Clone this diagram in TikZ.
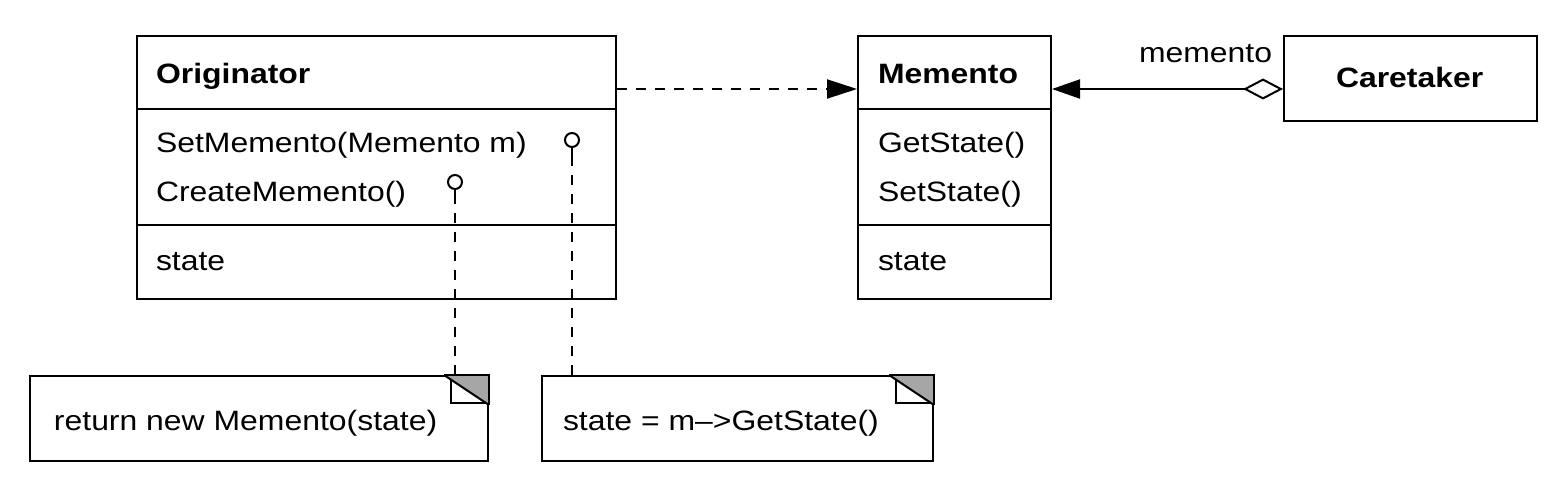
\documentclass[tikz,border=0pt]{standalone}
\usepackage{fontspec}
\setmainfont[FakeStretch=1.14]{Liberation Sans}
\usetikzlibrary{arrows.meta,calc}
\begin{document}
\begin{tikzpicture}[x=0.5pt,y=-0.5pt, line width=1pt,
  cls/.style={draw, rectangle, anchor=north west, inner sep=0pt},
  txt/.style={anchor=base west, inner sep=0pt, font=\fontsize{14}{16}\selectfont},
  btxt/.style={anchor=base west, inner sep=0pt, font=\fontsize{14}{16}\selectfont\bfseries},
  dashline/.style={dash pattern=on 5pt off 4.5pt},
  pincirc/.style={draw, circle, fill=white, minimum size=7pt, inner sep=0pt},
  foldfill/.style={fill=black!35},
  tri/.style={-{Triangle[length=15pt,width=9.5pt]}}]
\useasboundingbox (0,0) rectangle (1568,492);

% classes
\node[cls, minimum width=239.5pt, minimum height=131.5pt] (orig) at (136,35) {};
\node[cls, minimum width=96.5pt, minimum height=131.5pt] (mem) at (857,35) {};
\node[cls, minimum width=126.5pt, minimum height=42.5pt] (care) at (1283,35) {};

\draw (orig.west |- 0,109) -- (orig.east |- 0,109);
\draw (orig.west |- 0,225) -- (orig.east |- 0,225);
\draw (mem.west |- 0,109) -- (mem.east |- 0,109);
\draw (mem.west |- 0,225) -- (mem.east |- 0,225);

\node[btxt] (origname) at (155,84) {Originator};
\node[txt] (om1) at (155,152) {SetMemento(Memento m)};
\node[txt] (om2) at (155,201) {CreateMemento()};
\node[txt] (oa1) at (155,270) {state};

\node[btxt] (memname) at (877,84) {Memento};
\node[txt] (mm1) at (877,152) {GetState()};
\node[txt] (mm2) at (877,201) {SetState()};
\node[txt] (ma1) at (877,270) {state};

\node[btxt] (carename) at (1335,88) {Caretaker};

% notes
\node[cls, minimum width=229pt, minimum height=42.5pt] (n1) at (29,375) {};
\node[cls, minimum width=195.5pt, minimum height=42.5pt] (n2) at (541,375) {};
\node[txt] (n1t) at (53,430) {return new Memento(state)};
\node[txt] (n2t) at (562,430) {state = m\textendash>GetState()};

\foreach \n in {n1,n2} {
  \fill[foldfill] ($(\n.north east)+(-45,0)$) -- (\n.north east) -- ($(\n.north east)+(0,30)$) -- cycle;
  \draw ($(\n.north east)+(-45,0)$) -- (\n.north east) -- ($(\n.north east)+(0,30)$);
  \draw ($(\n.north east)+(-45,0)$) -- ($(\n.north east)+(0,30)$);
  \draw ($(\n.north east)+(-38,5)$) -- ($(\n.north east)+(-38,28)$) -- ($(\n.north east)+(-3,28)$);
}

% pins
\node[pincirc] (p1) at (455,182) {};
\node[pincirc] (p2) at (572,140) {};
\draw[dashline] (p1.south |- n1.north) -- (p1.south);
\draw[dashline] (p2.south |- n2.north) -- (p2.south);
\draw (p1.south) -- ++(0,12);
\draw (p2.south) -- ++(0,12);

% connectors
\draw[dashline, tri] ([yshift=-27pt]orig.north east) -- ([yshift=-27pt]mem.north west);
\draw[{Triangle[length=14pt,width=9.5pt]}-{Diamond[fill=white,length=20pt,width=10.5pt]}]
  ([yshift=-27pt]mem.north east) -- ([yshift=-27pt]care.north west);
\node[txt] (lbl) at (1138,63) {memento};
\end{tikzpicture}
\end{document}
